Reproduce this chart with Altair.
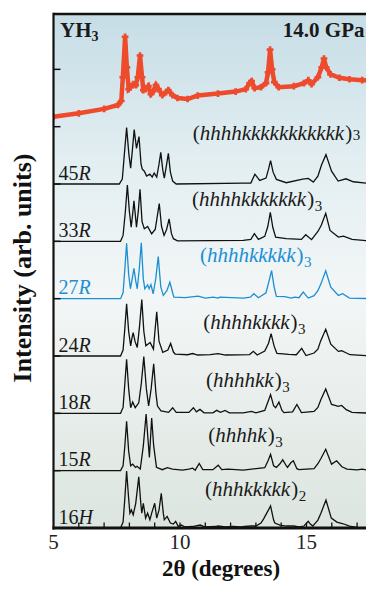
import altair as alt
import pandas as pd

# ---------------- axis ranges / layout ----------------
PXU = 25.3                       # pixels per degree
W, H = 312.5, 514.0
XMIN = 5.0
XMAX = XMIN + W / PXU
YMIN, YMAX = 0.0, 520.0

x_tick_labels = [5, 10, 15]
x_minor_ticks = [6, 7, 8, 9, 10, 11, 12, 13, 14, 15, 16, 17]
y_ticks = [58, 116, 174, 232, 290, 348, 406, 464]

# ---------------- data (2theta, intensity above own baseline, arb. units) ----------------
exp_offset = 406
exp_pts = [(5.0, 10), (6.0, 13.5), (7.0, 18), (7.55, 22), (7.68, 26), (7.74, 50), (7.83, 91), (7.90, 60),
           (7.97, 38), (8.05, 40), (8.15, 43), (8.25, 42), (8.33, 50), (8.42, 72), (8.50, 50), (8.55, 37),
           (8.65, 38), (8.75, 41), (8.85, 33), (8.95, 36), (9.05, 42), (9.15, 38), (9.30, 32), (9.45, 35),
           (9.54, 37), (9.70, 32), (9.90, 29), (10.3, 28), (10.7, 31.5), (11.5, 33.5), (12.2, 35.5),
           (12.6, 38), (12.75, 44), (12.83, 46), (12.95, 39), (13.2, 40), (13.4, 44), (13.48, 55),
           (13.56, 78), (13.64, 58), (13.73, 45), (13.9, 40), (14.5, 41), (14.9, 44), (15.07, 47),
           (15.2, 43), (15.45, 50), (15.6, 60), (15.69, 69), (15.78, 60), (15.95, 53), (16.3, 49.5),
           (16.7, 48), (17.2, 47), (17.67, 47)]

p45R = [(5.0, 0), (7.6, 0), (7.72, 5), (7.80, 30), (7.89, 57), (7.98, 30), (8.05, 16), (8.12, 35), (8.19, 55),
        (8.28, 36), (8.38, 48), (8.46, 20), (8.51, 15), (8.59, 13), (8.68, 8), (8.81, 10), (8.90, 7), (8.98, 11),
        (9.08, 7), (9.17, 20), (9.24, 32), (9.32, 14), (9.38, 6), (9.46, 18), (9.54, 31), (9.62, 12), (9.71, 3),
        (9.85, 0), (12.5, 1), (12.8, 1), (12.96, 10), (13.15, 3.7), (13.4, 6), (13.5, 15), (13.58, 23.7),
        (13.68, 12), (13.81, 4.7), (14.2, 1.3), (14.85, 5), (15.07, 5.7), (15.27, 2), (15.45, 8), (15.6, 19.7),
        (15.77, 29.7), (15.99, 13), (16.25, 3), (16.56, 5.3), (16.85, 2.3), (17.67, 0)]
p33R = [(5.0, 0), (7.65, 0), (7.75, 6), (7.84, 30), (7.92, 57), (8.0, 30), (8.07, 14.3), (8.13, 28), (8.18, 41),
        (8.24, 25), (8.28, 14.3), (8.35, 30), (8.42, 52.7), (8.50, 20), (8.59, 12.7), (8.72, 15), (8.88, 7.7),
        (9.02, 12), (9.10, 25), (9.18, 38.3), (9.27, 15), (9.37, 6), (9.47, 12), (9.57, 22.7), (9.66, 8),
        (9.74, 2.7), (9.9, 0.5), (12.5, 1), (12.8, 2), (12.94, 7.7), (13.1, 2), (13.35, 5), (13.47, 15),
        (13.57, 29.3), (13.67, 14), (13.78, 4.3), (14.2, 2.7), (14.8, 2), (14.97, 6.7), (15.2, 1.7), (15.45, 10),
        (15.58, 16), (15.76, 28.3), (15.93, 11), (16.26, 4.3), (16.46, 5.3), (16.8, 2), (17.67, 0)]
p27R = [(5.0, 0), (7.65, 0), (7.75, 6), (7.82, 30), (7.89, 56), (7.97, 25), (8.04, 10), (8.11, 20), (8.18, 30.6),
        (8.25, 18), (8.31, 10), (8.39, 30), (8.47, 56.6), (8.55, 20), (8.61, 10), (8.72, 14), (8.78, 10),
        (8.85, 14.3), (8.94, 5), (9.04, 20), (9.14, 42.6), (9.24, 12), (9.34, 3.3), (9.48, 8), (9.60, 16.6),
        (9.72, 5), (9.76, 1.6), (10.2, 1), (10.72, 2.5), (11.0, 0.5), (11.32, 1.6), (11.5, 0.5), (11.58, 1.6),
        (12.5, 0.5), (12.78, 1.5), (12.92, 5), (13.1, 1), (13.4, 6), (13.52, 18), (13.62, 28.3), (13.72, 12),
        (13.81, 2.3), (14.14, 2), (14.4, 0.5), (14.53, 1.5), (14.7, 1), (14.87, 6.6), (15.07, 0.6), (15.3, 3),
        (15.45, 8), (15.57, 15), (15.76, 28.3), (15.96, 11.6), (16.26, 3.3), (16.43, 5), (16.7, 0.6), (17.67, 0)]
p24R = [(5.0, 0), (7.65, 0), (7.75, 6), (7.82, 28), (7.89, 52.7), (7.97, 25), (8.05, 10.3), (8.10, 18),
        (8.15, 23.7), (8.22, 15), (8.31, 8.7), (8.40, 30), (8.49, 57), (8.57, 25), (8.65, 10.3), (8.82, 13.7),
        (8.95, 7), (9.01, 25), (9.08, 44.7), (9.17, 15), (9.32, 3.7), (9.52, 6), (9.63, 12.7), (9.74, 4),
        (9.81, 2), (10.3, 1.3), (10.5, 2.5), (10.7, 1), (11.2, 1.3), (11.5, 2.5), (11.8, 1), (12.75, 1.5),
        (12.90, 4.7), (13.05, 1), (13.35, 5), (13.5, 13), (13.60, 22.7), (13.72, 10), (13.83, 2.7), (14.3, 1.7),
        (14.6, 1.3), (14.81, 7.7), (14.98, 0.5), (15.3, 3), (15.45, 7), (15.56, 15.3), (15.76, 27), (15.96, 12),
        (16.26, 4.7), (16.39, 5.3), (16.72, 1.3), (17.67, 0)]
p18R = [(5.0, 0), (7.65, 0), (7.75, 6), (7.82, 30), (7.89, 54.7), (7.97, 25), (8.05, 5.7), (8.13, 11.4),
        (8.23, 5.7), (8.37, 10.7), (8.47, 30), (8.57, 57.4), (8.67, 25), (8.76, 7.4), (8.86, 25), (8.96, 50),
        (9.05, 20), (9.11, 7.4), (9.25, 2.4), (9.55, 1), (9.71, 5.7), (9.85, 1), (10.35, 1), (10.53, 5.7),
        (10.65, 1.5), (10.79, 4), (10.95, 0.5), (11.3, 0.5), (11.45, 3), (11.6, 1), (11.78, 3), (11.95, 0.5),
        (12.5, 0.5), (12.83, 2), (13.0, 0.5), (13.35, 3), (13.48, 12), (13.58, 19), (13.7, 7.7), (13.78, 5.7),
        (13.91, 11.4), (14.03, 3), (14.11, 0.7), (14.45, 1.5), (14.62, 9), (14.8, 0.7), (15.3, 2), (15.45, 6),
        (15.57, 14), (15.76, 24.7), (15.99, 9), (16.13, 8), (16.25, 7), (16.39, 8), (16.57, 3.7), (16.8, 1),
        (17.67, 0)]
p15R = [(5.0, 0), (7.65, 0), (7.75, 5), (7.82, 25), (7.89, 50), (7.97, 20), (8.05, 5), (8.13, 6.6), (8.24, 3.3),
        (8.3, 4.5), (8.43, 1.6), (8.55, 25), (8.66, 57.3), (8.74, 30), (8.79, 13.3), (8.84, 35), (8.88, 53.3),
        (8.96, 25), (9.07, 3.3), (9.3, 1), (9.5, 3), (9.7, 1.5), (10.1, 0.5), (10.35, 1.5), (10.5, 2.5),
        (10.6, 0.5), (10.76, 7.3), (10.9, 1), (11.3, 1), (11.51, 5.6), (11.65, 1), (11.9, 1.5), (12.5, 0.5),
        (13.35, 3), (13.48, 10), (13.58, 16.6), (13.7, 5), (13.81, 3.3), (13.95, 7), (14.06, 11), (14.2, 5),
        (14.25, 3.3), (14.38, 8), (14.48, 10), (14.62, 2), (14.7, 1), (15.3, 2), (15.45, 7), (15.57, 12.3),
        (15.76, 21.6), (15.99, 6.6), (16.19, 10), (16.4, 4), (16.6, 1.6), (17.0, 0.8), (17.2, 1.6), (17.4, 0.5),
        (17.67, 0)]
p16H = [(5.0, 0), (7.65, 0), (7.75, 6), (7.82, 30), (7.89, 57.7), (7.97, 30), (8.02, 15), (8.08, 18.3),
        (8.15, 13.3), (8.25, 25), (8.37, 51.7), (8.45, 25), (8.49, 15), (8.55, 25), (8.64, 10), (8.72, 15),
        (8.81, 8.3), (8.88, 15), (9.0, 25), (9.08, 10), (9.17, 18), (9.26, 35), (9.34, 15), (9.38, 8.3),
        (9.49, 11.7), (9.62, 5), (9.74, 4), (9.83, 6.7), (9.93, 1.7), (10.05, 3), (10.2, 1), (10.5, 1.5),
        (10.8, 3), (11.0, 1), (11.4, 1.5), (11.5, 2), (11.8, 1), (12.1, 1.5), (12.4, 1), (12.55, 1.5), (12.8, 2),
        (13.0, 2), (13.2, 5), (13.3, 9), (13.45, 16), (13.58, 22.3), (13.7, 8), (13.75, 5), (13.95, 3),
        (14.2, 2), (14.5, 2), (14.7, 1), (14.9, 2), (15.07, 6.7), (15.15, 4), (15.25, 2), (15.35, 5), (15.45, 8),
        (15.57, 15), (15.77, 28.3), (15.98, 10), (16.2, 6), (16.45, 4.3), (16.7, 2), (17.0, 0.7), (17.67, 0)]

phases = ["45R", "33R", "27R", "24R", "18R", "15R", "16H"]
phase_pts = [p45R, p33R, p27R, p24R, p18R, p15R, p16H]
offsets = [348, 290, 232, 174, 116, 58, 0]
colors = ["#1a1a1a", "#1a1a1a", "#1b8fd2", "#1a1a1a", "#1a1a1a", "#1a1a1a", "#1a1a1a"]
stack_seq = ["hhhhkkkkkkkkkkk", "hhhhkkkkkkk", "hhhhkkkkk", "hhhhkkkk", "hhhhkk", "hhhhk", "hhhkkkkk"]
stack_rep = ["3", "3", "3", "3", "3", "3", "2"]
stack_x = [10.50, 10.47, 10.79, 10.92, 11.03, 11.12, 10.99]
stack_y = [393, 326, 269.3, 201, 142.7, 86.7, 32.7]
sub_drop = [0, 5, 5, 5, 5, 5, 5]

# ---------------- build tables ----------------
rows = []
for name, pts, off in zip(phases, phase_pts, offsets):
    for i, (x, y) in enumerate(pts):
        rows.append(dict(name=name, i=i, x=x, y=y + off))
traces = pd.DataFrame(rows)
exp_df = pd.DataFrame([dict(i=i, x=x, y=y + exp_offset) for i, (x, y) in enumerate(exp_pts)])

txt = []
FS, FSUB, FPH = 21, 15, 20
for k, name in enumerate(phases):
    col = colors[k]
    base = offsets[k] + 4.5
    txt.append(dict(t=name[:-1], x=5.2, y=base, s=FPH, st="n", c=col))
    txt.append(dict(t=name[-1], x=5.2 + 1.0 * FPH / PXU, y=base, s=FPH, st="i", c=col))
    x0, yb, seq = stack_x[k], stack_y[k], stack_seq[k]
    txt.append(dict(t="(", x=x0, y=yb, s=FS, st="n", c=col))
    xi = x0 + 0.333 * FS / PXU
    txt.append(dict(t=seq, x=xi, y=yb, s=FS, st="i", c=col))
    wi = sum(0.5 if ch == "h" else 0.444 for ch in seq) * FS
    xc = xi + (wi + 1.0) / PXU
    txt.append(dict(t=")", x=xc, y=yb, s=FS, st="n", c=col))
    txt.append(dict(t=stack_rep[k], x=xc + (0.333 * FS + 0.5) / PXU, y=yb - sub_drop[k], s=FSUB, st="n", c=col))
txt_df = pd.DataFrame(txt)

bold_left = pd.DataFrame([
    dict(t="YH", x=5.26, y=496.7, s=21),
    dict(t="3", x=5.26 + 1.5 * 21 / PXU, y=492.3, s=14),
])
bold_right = pd.DataFrame([dict(t="14.0 GPa", x=XMAX - 1.5 / PXU, y=496.7, s=21)])

xs = alt.Scale(domain=[XMIN, XMAX], nice=False, zero=False)
ys = alt.Scale(domain=[YMIN, YMAX], nice=False, zero=False)
one = pd.DataFrame({"a": [0]})
X = lambda f="x": alt.X(f + ":Q", scale=xs, axis=None)
Y = lambda f="y": alt.Y(f + ":Q", scale=ys, axis=None)

bg = alt.Chart(one).mark_rect(
    color=alt.LinearGradient(
        gradient="linear", x1=0, x2=0, y1=0, y2=1,
        stops=[alt.GradientStop(color="#c6dde6", offset=0),
               alt.GradientStop(color="#e2eef1", offset=0.28),
               alt.GradientStop(color="#f3f6f6", offset=0.55),
               alt.GradientStop(color="#dce5df", offset=1)])
).encode(x=alt.value(0), x2=alt.value(W), y=alt.value(0), y2=alt.value(H))

black_df = traces[traces.name != "27R"]
blue_df = traces[traces.name == "27R"]

lines = alt.Chart(black_df).mark_line(color="#111111", strokeWidth=1.3, clip=True).encode(
    x=X(), y=Y(), detail="name:N", order="i:Q")
blue = alt.Chart(blue_df).mark_line(color="#1b8fd2", strokeWidth=1.3, clip=True).encode(
    x=X(), y=Y(), order="i:Q")
red = alt.Chart(exp_df).mark_line(color="#ee4a2c", strokeWidth=4.5, clip=True).encode(
    x=X(), y=Y(), order="i:Q")
red_pts = alt.Chart(exp_df).mark_point(shape="cross", filled=True, size=45, color="#ee4a2c", opacity=1,
                                       clip=True).encode(x=X(), y=Y())

# frame
top_rule = alt.Chart(one).mark_rule(color="#111", strokeWidth=2.5).encode(
    x=alt.value(0), x2=alt.value(W), y=alt.value(0))
left_rule = alt.Chart(one).mark_rule(color="#111", strokeWidth=2.2).encode(
    x=alt.value(0), y=alt.value(-1.2), y2=alt.value(H + 1.5))
bottom_rule = alt.Chart(one).mark_rule(color="#111", strokeWidth=3).encode(
    x=alt.value(-1), x2=alt.value(W), y=alt.value(H))

bt = pd.DataFrame({"x": x_minor_ticks})
bottom_ticks = alt.Chart(bt).mark_rule(color="#111", strokeWidth=1.3).encode(
    x=X(), y=alt.value(H), y2=alt.value(H - 5.5))
yt = pd.DataFrame({"y": y_ticks})
left_ticks = alt.Chart(yt).mark_rule(color="#111", strokeWidth=1.5).encode(
    y=Y(), x=alt.value(0), x2=alt.value(7))

xl = pd.DataFrame({"x": x_tick_labels, "t": [str(v) for v in x_tick_labels]})
x_labels = alt.Chart(xl).mark_text(align="center", baseline="alphabetic", font="Liberation Serif",
                                   fontSize=21, color="#222").encode(x=X(), y=alt.value(H + 21), text="t:N")

def text_layer(style):
    return alt.Chart(txt_df[txt_df.st == style]).mark_text(
        align="left", baseline="alphabetic", font="Liberation Serif",
        fontStyle="italic" if style == "i" else "normal").encode(
        x=X(), y=Y(), text="t:N", size=alt.Size("s:Q", scale=None, legend=None),
        color=alt.Color("c:N", scale=None))

def bold_layer(df, align):
    return alt.Chart(df).mark_text(align=align, baseline="alphabetic", font="Liberation Serif",
                                   fontWeight="bold", color="#1a1a1a").encode(
        x=X(), y=Y(), text="t:N", size=alt.Size("s:Q", scale=None, legend=None))

ytitle = alt.Chart(pd.DataFrame({"t": ["Intensity (arb. units)"]})).mark_text(
    angle=270, align="center", baseline="alphabetic", font="Liberation Serif", fontWeight="bold",
    fontSize=26, color="#111").encode(x=alt.value(-22.5), y=alt.value(254), text="t:N")
xtitle = alt.Chart(pd.DataFrame({"t": ["2θ (degrees)"]})).mark_text(
    align="center", baseline="alphabetic", font="Liberation Serif", fontWeight="bold",
    fontSize=23, color="#111").encode(x=alt.value(167.5), y=alt.value(H + 48), text="t:N")

chart = alt.layer(
    bg, lines, blue, red, red_pts, bottom_ticks, left_ticks, top_rule, left_rule, bottom_rule,
    x_labels, text_layer("n"), text_layer("i"), bold_layer(bold_left, "left"),
    bold_layer(bold_right, "right"), ytitle, xtitle
).properties(
    width=W, height=H,
    padding={"left": 45.5, "top": 6, "right": 0, "bottom": 53},
    autosize=alt.AutoSizeParams(type="none"),
    background="white",
).configure_view(strokeWidth=0)

chart.save("out.html", embed_options={"renderer": "svg", "actions": False})
